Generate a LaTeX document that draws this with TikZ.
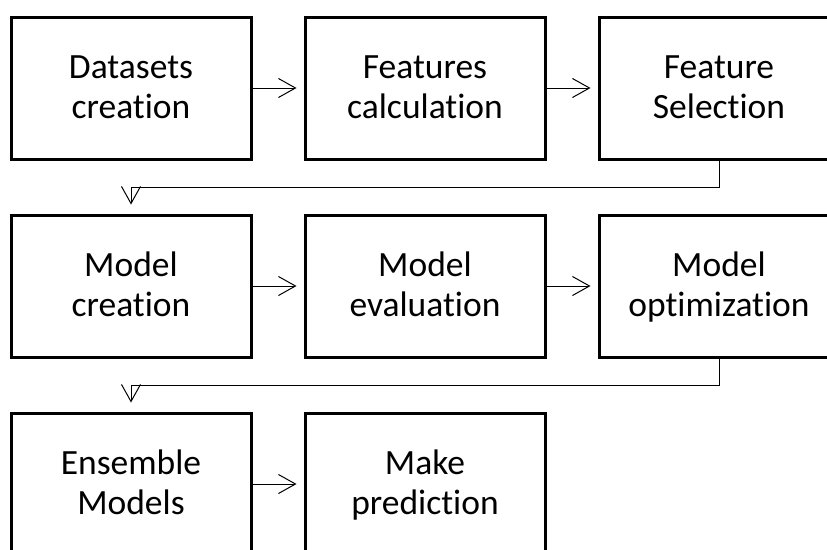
\documentclass[tikz,border=0pt]{standalone}
\usepackage{fontspec}
\setmainfont{Carlito}[Ligatures=NoCommon]
\usetikzlibrary{arrows.meta}
\begin{document}
\begin{tikzpicture}[x=1pt,y=-1pt,
  stagebox/.style={draw=black, line width=3pt, minimum width=240pt, minimum height=142pt,
    inner sep=0pt, align=center, font=\fontsize{35.5}{40}\selectfont, text=black},
  flow/.style={line width=1pt, -{Straight Barb[length=17pt,width=19pt,line width=1pt]}, shorten >=7pt}
]
\useasboundingbox (0,0) rectangle (827,549);
\clip (0,0) rectangle (827,549);
\fill[white] (0,0) rectangle (827,549);

% two-line labels with fixed struts so every box places its text alike
\newcommand\twolines[2]{\rule{0pt}{31pt}#1\\#2\rule[-11pt]{0pt}{11pt}}

% row 1
\node[stagebox] (ds)  at (131,88) {\twolines{Datasets}{creation}};
\node[stagebox] (fc)  at (425,88) {\twolines{Features}{calculation}};
\node[stagebox] (fs)  at (719,88) {\twolines{Feature}{Selection}};
% row 2
\node[stagebox] (mc)  at (131,286) {\twolines{Model}{creation}};
\node[stagebox] (me)  at (425,286) {\twolines{Model}{evaluation}};
\node[stagebox] (mo)  at (719,286) {\twolines{Model}{optimization}};
% row 3
\node[stagebox] (em)  at (131,484) {\twolines{Ensemble}{Models}};
\node[stagebox] (mp)  at (425,484) {\twolines{Make}{prediction}};

% straight links
\draw[flow] (ds) -- (fc);
\draw[flow] (fc) -- (fs);
\draw[flow] (mc) -- (me);
\draw[flow] (me) -- (mo);
\draw[flow] (em) -- (mp);

% elbow links between rows
\coordinate (r1) at (0,187);
\coordinate (r2) at (0,385);
\draw[flow, shorten >=9pt] (fs.south) |- (r1 -| mc.north) -- (mc.north);
\draw[flow, shorten >=9pt] (mo.south) |- (r2 -| em.north) -- (em.north);
\end{tikzpicture}
\end{document}
